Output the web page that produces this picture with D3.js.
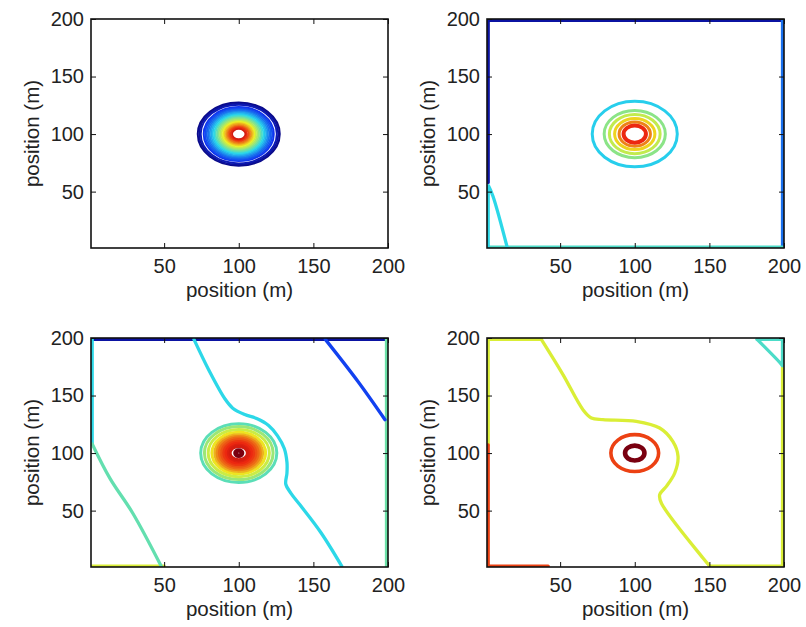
<!DOCTYPE html>
<html><head><meta charset="utf-8">
<script src="https://cdn.jsdelivr.net/npm/d3@7/dist/d3.min.js"></script>
<style>
body{margin:0;background:#fff;}
svg{display:block;font-family:"Liberation Sans",Arial,Helvetica,sans-serif;}
</style></head>
<body>
<svg id="chart" width="806" height="627"></svg>
<script>
// ---------------- data ----------------
const xTicks = [50, 100, 150, 200];
const yTicks = [50, 100, 150, 200];
const axisLabel = "position (m)";
const ringCenter = [100, 100];

// panel 1 (top-left): dense concentric contours
const p1RingRadii  = [27.5, 26.5, 25.5, 23.5, 22.5, 21.5, 20.5, 19.5, 18.5, 17.5, 16.5, 15.5, 14.5, 13.5, 12.5, 11.5, 10.5, 9.5, 8.5, 7.5, 6.5, 5.5, 4.5];
const p1RingLevels = [0.0, 0.02, 0.05, 0.13, 0.16, 0.19, 0.22, 0.26, 0.30, 0.34, 0.38, 0.42, 0.46, 0.50, 0.54, 0.58, 0.62, 0.67, 0.72, 0.77, 0.82, 0.86, 0.90];

// panel 2 (top-right)
const p2RingRadii  = [28.5, 20.5, 17, 13.5, 10.5, 7.5];
const p2RingLevels = [0.36, 0.50, 0.57, 0.66, 0.76, 0.87];
const p2EdgePaths = [
  [[1.8, 58], [1.8, 198.8], [199, 198.8]],
  [[199, 198.8], [199, 1.8]],
  [[1.8, 1.8], [199, 1.8]],
  [[1.8, 55], [1.8, 1.8]]
];
const p2EdgeLevels = [0.03, 0.22, 0.42, 0.38];
const p2CurvePaths = [
  [[2, 55], [5, 46], [14.5, 1.8]]
];
const p2CurveLevels = [0.38];

// panel 3 (bottom-left)
const p3RingRadii  = [25.5, 23, 20.5, 18, 16, 14.5, 13, 11.5, 10, 8.5, 7, 5.8, 2.2];
const p3RingLevels = [0.44, 0.52, 0.58, 0.64, 0.70, 0.75, 0.79, 0.82, 0.85, 0.87, 0.89, 0.90, 1.0];
const p3EdgePaths = [
  [[1.8, 198.8], [199, 198.8]],
  [[1.8, 198.8], [1.8, 108]],
  [[199, 198.8], [199, 1.8]],
  [[1.8, 1.8], [50, 1.8]]
];
const p3EdgeLevels = [0.03, 0.38, 0.46, 0.60];
const p3CurvePaths = [
  [[158, 198.8], [180, 162], [198, 129]],
  [[70, 198.8], [80, 172], [90.8, 147], [96, 139], [104, 133.5], [112, 130], [120, 124], [126, 115], [130.5, 104], [132.3, 92], [132.3, 82.7], [131.5, 73], [135, 65], [141, 55], [155, 31], [169, 1.8]],
  [[1.8, 108], [13.7, 78], [29.1, 47.5], [48, 1.8]]
];
const p3CurveLevels = [0.15, 0.38, 0.45];

// panel 4 (bottom-right)
const p4RingRadii  = [16, 6.5];
const p4RingLevels = [0.84, 1.0];
const p4EdgePaths = [
  [[37.4, 198.8], [1.8, 198.8], [1.8, 107]],
  [[1.8, 107], [1.8, 1.8], [42, 1.8]],
  [[150.2, 1.8], [199, 1.8], [199, 176]],
  [[199, 176], [199, 198.8], [182, 198.8]]
];
const p4EdgeLevels = [0.60, 0.84, 0.60, 0.42];
const p4CurvePaths = [
  [[37.4, 198.8], [52, 168], [65.3, 137.7], [70.9, 130.5], [78.7, 129], [101, 127.6], [116.7, 121.8], [125.6, 110], [129, 97.2], [126.8, 82.7], [121.2, 71.1], [116.7, 63.8], [117.8, 56.6], [145.7, 8.8], [150.2, 1.8]],
  [[182, 198.8], [197, 179], [199, 176]]
];
const p4CurveLevels = [0.60, 0.42];

// ---------------- styles / layout ----------------
const jet = d3.scaleLinear()
  .domain([0, 0.125, 0.375, 0.625, 0.875, 1])
  .range(["#0a0a8a", "#1030f0", "#28d8ec", "#eef022", "#ec2410", "#7a0010"])
  .clamp(true);

const panels = [
  {x0: 91,  x1: 388, y0: 19,  y1: 248, rings: [p1RingRadii, p1RingLevels], edges: null, curves: null, ringWidth: 1.9},
  {x0: 487, x1: 784, y0: 19,  y1: 248, rings: [p2RingRadii, p2RingLevels], edges: [p2EdgePaths, p2EdgeLevels], curves: [p2CurvePaths, p2CurveLevels], ringWidth: 3},
  {x0: 91,  x1: 388, y0: 338, y1: 567, rings: [p3RingRadii, p3RingLevels], edges: [p3EdgePaths, p3EdgeLevels], curves: [p3CurvePaths, p3CurveLevels], ringWidth: 3},
  {x0: 487, x1: 784, y0: 338, y1: 567, rings: [p4RingRadii, p4RingLevels], edges: [p4EdgePaths, p4EdgeLevels], curves: [p4CurvePaths, p4CurveLevels], ringWidth: 3.6}
];

const svg = d3.select("#chart");
const fsTick = 20, fsLabel = 20.5;

panels.forEach((p, i) => {
  const x = d3.scaleLinear().domain([1, 200]).range([p.x0, p.x1]);
  const y = d3.scaleLinear().domain([1, 200]).range([p.y1, p.y0]);
  const g = svg.append("g");
  const clipId = "clip" + i;
  g.append("clipPath").attr("id", clipId).append("rect")
    .attr("x", p.x0).attr("y", p.y0).attr("width", p.x1 - p.x0).attr("height", p.y1 - p.y0);
  const plot = g.append("g").attr("clip-path", `url(#${clipId})`);

  const drawSet = (set, curve) => {
    if (!set) return;
    const [paths, levels] = set;
    const line = d3.line().x(d => x(d[0])).y(d => y(d[1])).curve(curve);
    paths.forEach((pts, k) => {
      plot.append("path").attr("d", line(pts)).attr("fill", "none")
        .attr("stroke", jet(levels[k])).attr("stroke-width", 3.3)
        .attr("stroke-linejoin", "round").attr("stroke-linecap", "round");
    });
  };
  drawSet(p.edges, d3.curveLinear);
  drawSet(p.curves, d3.curveCatmullRom.alpha(0.5));

  // rings
  const [radii, levels] = p.rings;
  radii.forEach((r, k) => {
    const rx = x(ringCenter[0] + r) - x(ringCenter[0]);
    const ry = y(ringCenter[1]) - y(ringCenter[1] + r);
    plot.append("ellipse")
      .attr("cx", x(ringCenter[0])).attr("cy", y(ringCenter[1]))
      .attr("rx", rx).attr("ry", ry)
      .attr("fill", "none").attr("stroke", jet(levels[k]))
      .attr("stroke-width", levels[k] >= 1 ? 4.6 : (i === 1 && k === radii.length - 1 ? 4 : p.ringWidth));
  });

  // axes
  const axB = d3.axisBottom(x).tickValues(xTicks).tickSizeInner(-5).tickSizeOuter(0).tickPadding(11);
  const axL = d3.axisLeft(y).tickValues(yTicks).tickSizeInner(-5).tickSizeOuter(0).tickPadding(7);
  const axT = d3.axisTop(x).tickValues(xTicks).tickSizeInner(-5).tickSizeOuter(0).tickFormat("");
  const axR = d3.axisRight(y).tickValues(yTicks).tickSizeInner(-5).tickSizeOuter(0).tickFormat("");
  const style = sel => {
    sel.selectAll(".domain").remove();
    sel.selectAll("line").attr("stroke", "#111").attr("stroke-width", 1);
    sel.selectAll("text").attr("font-size", fsTick).attr("fill", "#222").attr("font-family", "Liberation Sans, Arial, sans-serif");
  };
  g.append("g").attr("transform", `translate(0,${p.y1})`).call(axB).call(style);
  g.append("g").attr("transform", `translate(${p.x0},0)`).call(axL).call(style);
  g.append("g").attr("transform", `translate(0,${p.y0})`).call(axT).call(style);
  g.append("g").attr("transform", `translate(${p.x1},0)`).call(axR).call(style);

  g.append("rect").attr("x", p.x0).attr("y", p.y0)
    .attr("width", p.x1 - p.x0).attr("height", p.y1 - p.y0)
    .attr("fill", "none").attr("stroke", "#111").attr("stroke-width", 1.6);

  // labels
  g.append("text").attr("x", (p.x0 + p.x1) / 2).attr("y", p.y1 + 49)
    .attr("text-anchor", "middle").attr("font-size", fsLabel).attr("fill", "#222").text(axisLabel);
  g.append("text")
    .attr("transform", `translate(${p.x0 - 59},${(p.y0 + p.y1) / 2}) rotate(-90)`)
    .attr("text-anchor", "middle").attr("dy", "0.35em")
    .attr("font-size", fsLabel).attr("fill", "#222").text(axisLabel);
});
</script>
</body></html>
